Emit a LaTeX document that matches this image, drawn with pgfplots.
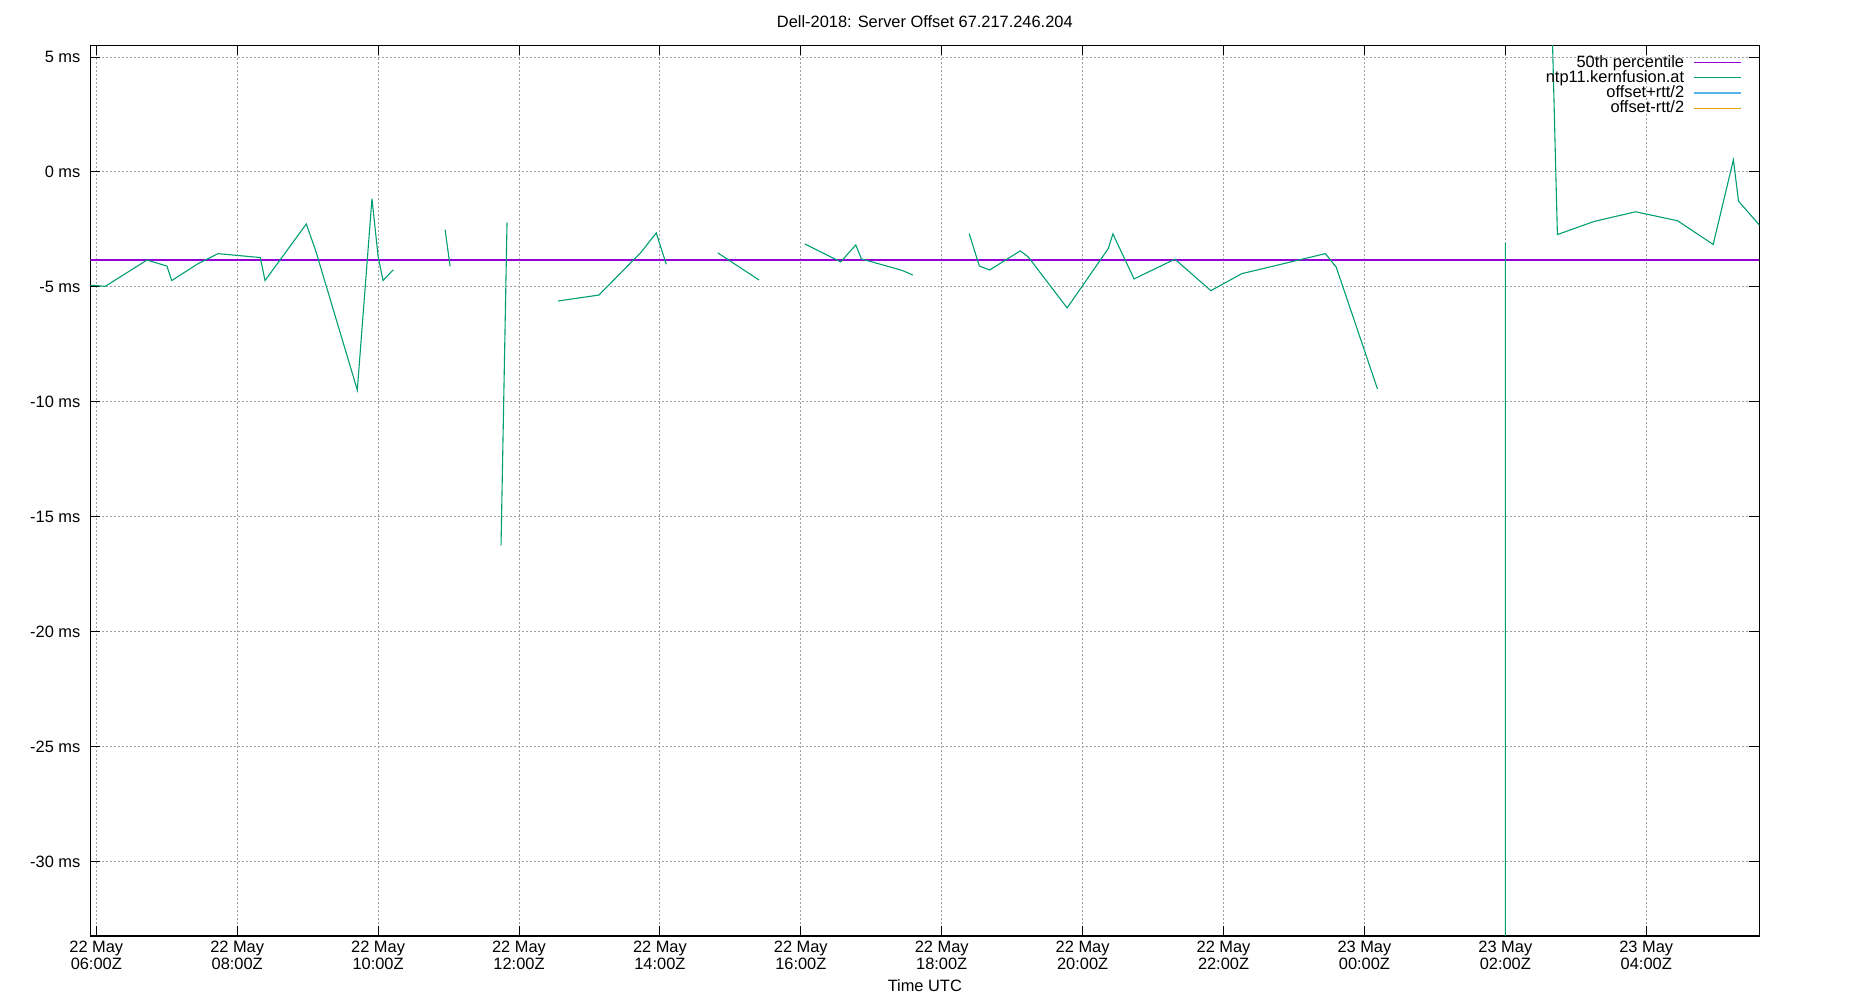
\documentclass[border=0pt]{standalone}
\usepackage{fontspec}
\setmainfont{Liberation Sans}
\usepackage{pgfplots}
\pgfplotsset{compat=1.18}

\definecolor{pctl}{HTML}{9400D3}
\definecolor{srv}{HTML}{009E73}
\definecolor{plusrtt}{HTML}{56B4E9}
\definecolor{minusrtt}{HTML}{E69F00}
\definecolor{gridgray}{HTML}{A0A0A0}

\begin{document}
\begin{tikzpicture}
\begin{axis}[
  scale only axis,
  width=834.5bp, height=445.35bp,
  xmin=5.915, xmax=29.605,
  ymin=-33.22, ymax=5.51,
  font=\fontsize{8.2bp}{7.2bp}\selectfont,
  axis line style={line width=0.65bp},
  tick align=inside,
  major tick length=5bp,
  tick style={line width=0.5bp, black},
  xtick={6,8,...,28},
  xticklabels={{22 May\\06:00Z},{22 May\\08:00Z},{22 May\\10:00Z},{22 May\\12:00Z},
    {22 May\\14:00Z},{22 May\\16:00Z},{22 May\\18:00Z},{22 May\\20:00Z},
    {22 May\\22:00Z},{23 May\\00:00Z},{23 May\\02:00Z},{23 May\\04:00Z}},
  xticklabel style={font=\fontsize{8.2bp}{7.2bp}\selectfont, align=center,
    anchor=base, inner sep=0pt, yshift=-16.65bp},
  ytick={-30,-25,...,5},
  yticklabels={-30 ms,-25 ms,-20 ms,-15 ms,-10 ms,-5 ms,0 ms,5 ms},
  yticklabel style={font=\fontsize{8.2bp}{7.2bp}\selectfont, inner sep=0pt,
    anchor=east, xshift=-4.8bp},
  grid=major,
  grid style={gridgray, line width=0.5bp, dash pattern=on 1bp off 1bp},
  every axis title shift=0pt,
  title={Dell-2018: Server Offset 67.217.246.204},
  title style={at={(axis description cs:0.5,1)}, anchor=base, inner sep=0pt,
    yshift=9bp, font=\fontsize{8.2bp}{9bp}\selectfont},
  xlabel={Time UTC},
  xlabel style={at={(axis description cs:0.5,0)}, anchor=base, inner sep=0pt,
    yshift=-27.85bp, font=\fontsize{8.2bp}{9bp}\selectfont},
  unbounded coords=jump,
  legend plot pos=right,
  legend cell align=right,
  legend image code/.code={\draw[#1] (0bp,0bp) -- (23.35bp,0bp);},
  legend style={draw=none, fill=none, at={(axis description cs:1,1)},
    anchor=north east, xshift=-8.8bp, yshift=-4.8bp, inner sep=0pt,
    row sep=0pt, column sep=4.65bp,
    font=\fontsize{8.2bp}{9bp}\selectfont,
    nodes={inner sep=0pt, text height=5.9bp, text depth=1.65bp}},
]

% median of the offsets
\addplot[color=pctl, line width=0.6bp] coordinates {
  (5.915,-3.83) (29.605,-3.83)
};
\addlegendentry{50th percentile}

% server offset, gaps where no samples
\addplot[color=srv, line width=0.55bp] coordinates {
  (5.90,-4.92) (6.128,-4.97) (6.719,-3.83) (7.003,-4.09) (7.07,-4.72)
  (7.443,-3.99) (7.727,-3.55) (8.328,-3.72) (8.395,-4.72) (8.981,-2.26)
  (9.114,-3.42) (9.705,-9.48) (9.913,-1.16) (10.0,-3.67) (10.07,-4.72)
  (10.216,-4.25)
  (10.6,nan)
  (10.951,-2.51) (11.022,-4.10)
  (11.4,nan)
  (11.745,-16.23) (11.83,-2.20)
  (12.2,nan)
  (12.553,-5.61) (13.135,-5.35) (13.735,-3.48) (13.948,-2.65) (14.09,-4.01)
  (14.5,nan)
  (14.823,-3.52) (15.409,-4.70)
  (15.7,nan)
  (16.057,-3.13) (16.567,-3.91) (16.78,-3.17) (16.86,-3.78) (17.44,-4.28)
  (17.59,-4.48)
  (18.0,nan)
  (18.39,-2.68) (18.534,-4.09) (18.68,-4.26) (19.116,-3.43) (19.23,-3.70)
  (19.78,-5.91) (20.364,-3.33) (20.43,-2.69) (20.73,-4.65) (21.31,-3.79)
  (21.82,-5.16) (22.26,-4.42) (23.445,-3.55) (23.60,-4.14) (24.185,-9.43)
  (25.0,nan)
  (26.0,-3.09) (26.0,-40)
  (26.3,nan)
  (26.65,8.0) (26.739,-2.72) (27.26,-2.15) (27.848,-1.73) (28.445,-2.12)
  (28.95,-3.15) (29.237,0.53) (29.31,-1.27) (29.65,-2.46)
};
\addlegendentry{ntp11.kernfusion.at}

\addlegendimage{color=plusrtt, line width=0.55bp}
\addlegendentry{offset+rtt/2}
\addlegendimage{color=minusrtt, line width=0.55bp}
\addlegendentry{offset-rtt/2}

\coordinate (sw) at (rel axis cs:0,0);
\coordinate (ne) at (rel axis cs:1,1);
\end{axis}
\pgfresetboundingbox
\path[use as bounding box] ([shift={(-45.15bp,-32bp)}]sw) rectangle ([shift={(45.35bp,22.65bp)}]ne);
\end{tikzpicture}
\end{document}
